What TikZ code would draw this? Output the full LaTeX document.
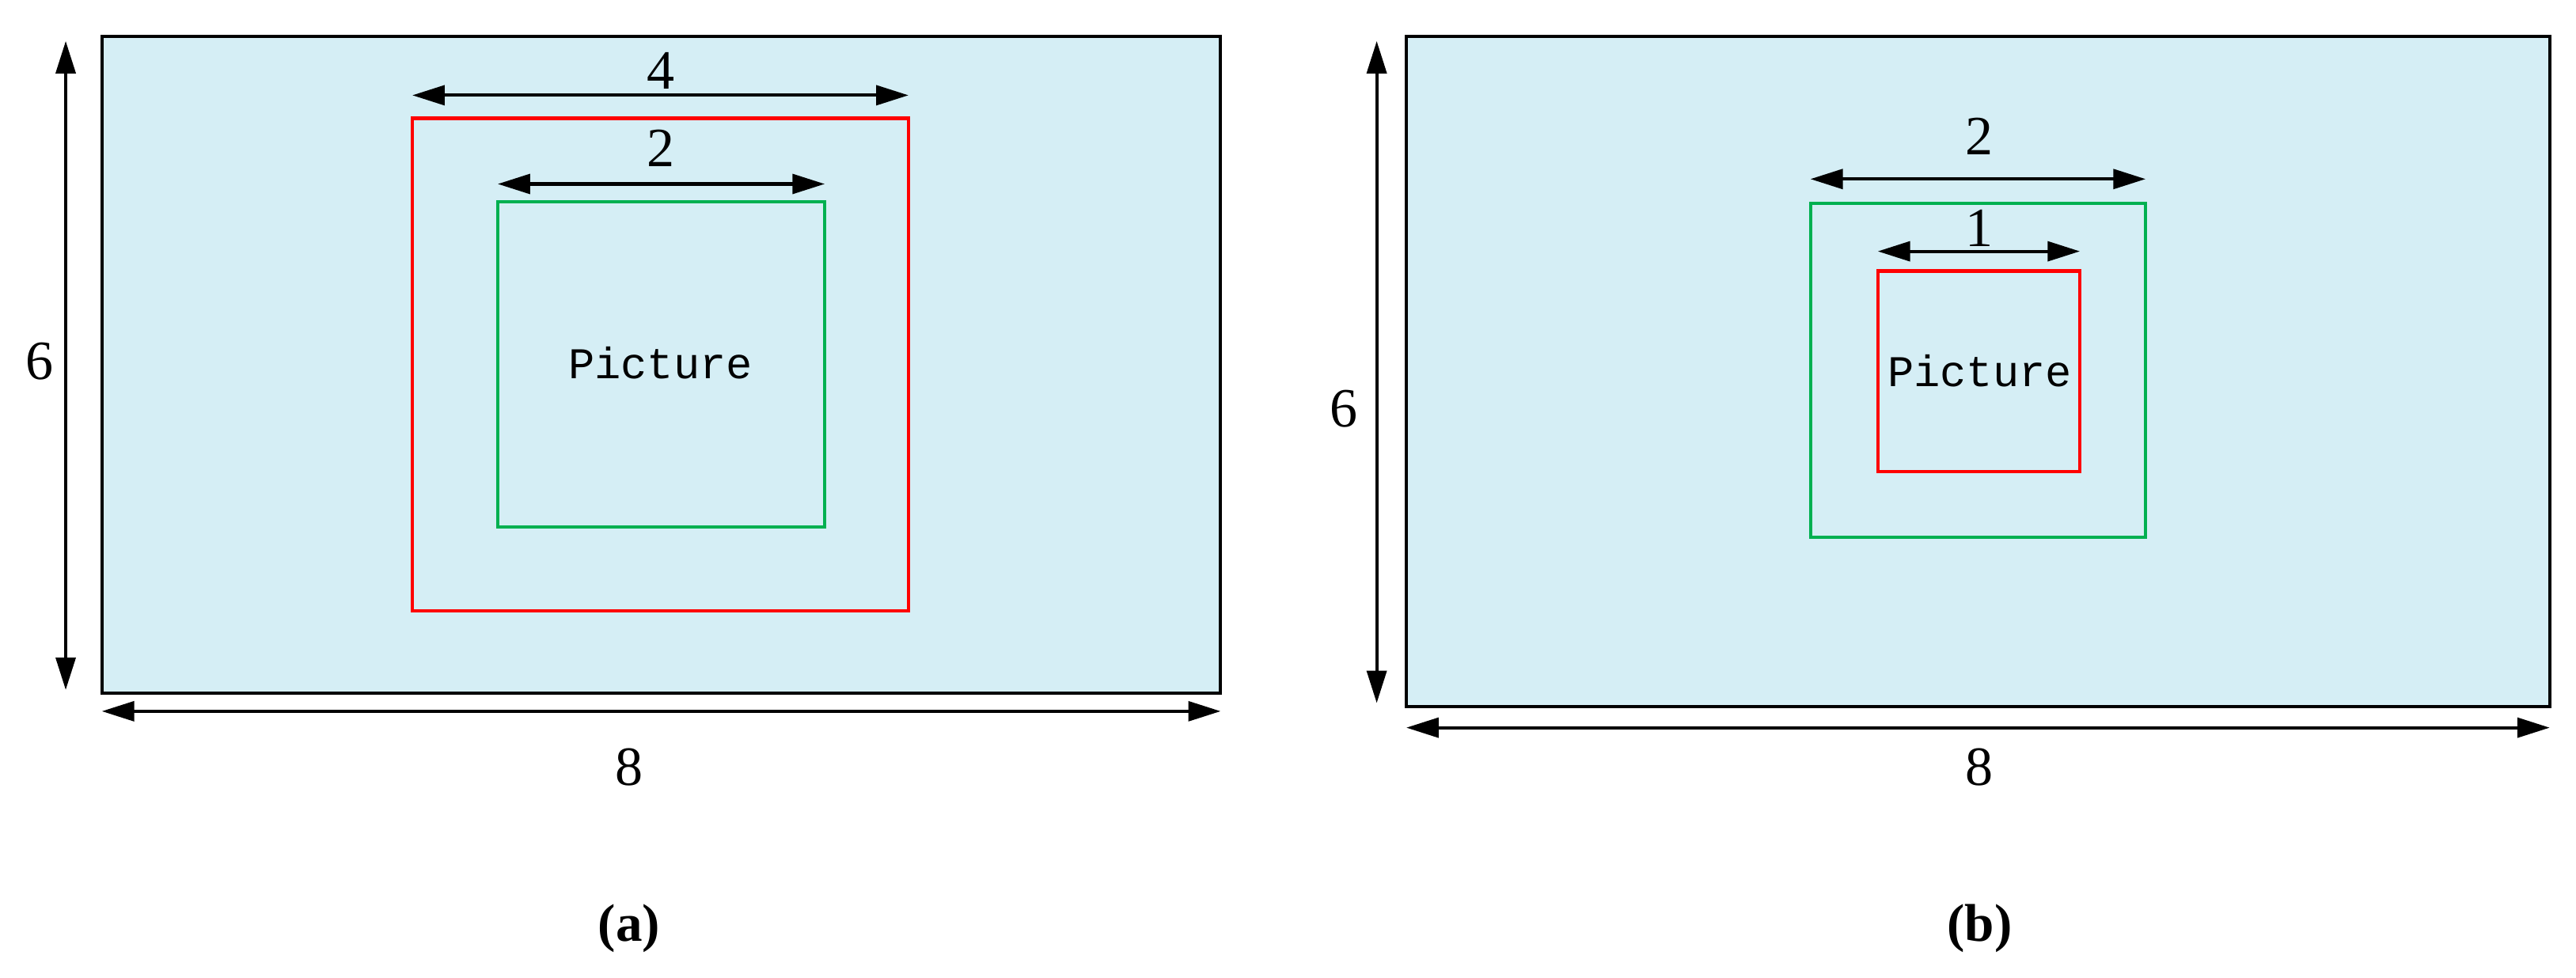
\documentclass[tikz,border=0pt]{standalone}
\usepackage{fontspec}
\setmainfont{Liberation Serif}
\newfontfamily\picfontx{Liberation Mono}
\usetikzlibrary{arrows.meta}
\definecolor{bg}{HTML}{D5EEF5}
\definecolor{gr}{HTML}{00B050}
\tikzset{dim/.style={line width=2.8pt,{Triangle[length=28pt,width=17pt]}-{Triangle[length=28pt,width=17pt]}},
 frame/.style={line width=2.8pt},
 num/.style={font=\fontsize{48}{48}\selectfont},
 ptxt/.style={font=\picfontx\fontsize{38}{38}\selectfont},
 captxt/.style={font=\bfseries\fontsize{46}{46}\selectfont}}
\begin{document}
\begin{tikzpicture}[x=0.05cm,y=-0.05cm]
\useasboundingbox (0,0) rectangle (1568,595.3);
% panel a
\draw[frame,fill=bg] (62,22) rectangle (743,422);
\draw[frame,red] (251,72) rectangle (553,372);
\draw[frame,gr] (303,123) rectangle (502,321);
\node[ptxt] (pa) at (402,221) {Picture};
\coordinate (a4l) at (251,58); \coordinate (a4r) at (553,58);
\draw[dim] (a4l) -- (a4r);
\node[num] (l4) at (402,43) {4};
\coordinate (a2l) at (303,112); \coordinate (a2r) at (502,112);
\draw[dim] (a2l) -- (a2r);
\node[num] (l2a) at (402,90) {2};
\coordinate (avt) at (40,25); \coordinate (avb) at (40,420);
\draw[dim] (avt) -- (avb);
\node[num] (l6a) at (24,220) {6};
\coordinate (ahl) at (62,433); \coordinate (ahr) at (743,433);
\draw[dim] (ahl) -- (ahr);
\node[num] (l8a) at (383,467) {8};
\node[captxt] (ca) at (383,565) {(a)};
% panel b
\draw[frame,fill=bg] (856,22) rectangle (1552,430);
\draw[frame,gr] (1102,124) rectangle (1306,327);
\draw[frame,red] (1143,165) rectangle (1266,287);
\node[ptxt] (pb) at (1205,226) {Picture};
\coordinate (b2l) at (1102,109); \coordinate (b2r) at (1306,109);
\draw[dim] (b2l) -- (b2r);
\node[num] (l2b) at (1205,83) {2};
\coordinate (b1l) at (1143,153); \coordinate (b1r) at (1266,153);
\draw[dim] (b1l) -- (b1r);
\node[num] (l1) at (1205,139) {1};
\coordinate (bvt) at (838,25); \coordinate (bvb) at (838,428);
\draw[dim] (bvt) -- (bvb);
\node[num] (l6b) at (818,249) {6};
\coordinate (bhl) at (856,443); \coordinate (bhr) at (1552,443);
\draw[dim] (bhl) -- (bhr);
\node[num] (l8b) at (1205,467) {8};
\node[captxt] (cb) at (1205,565) {(b)};
\end{tikzpicture}
\end{document}
